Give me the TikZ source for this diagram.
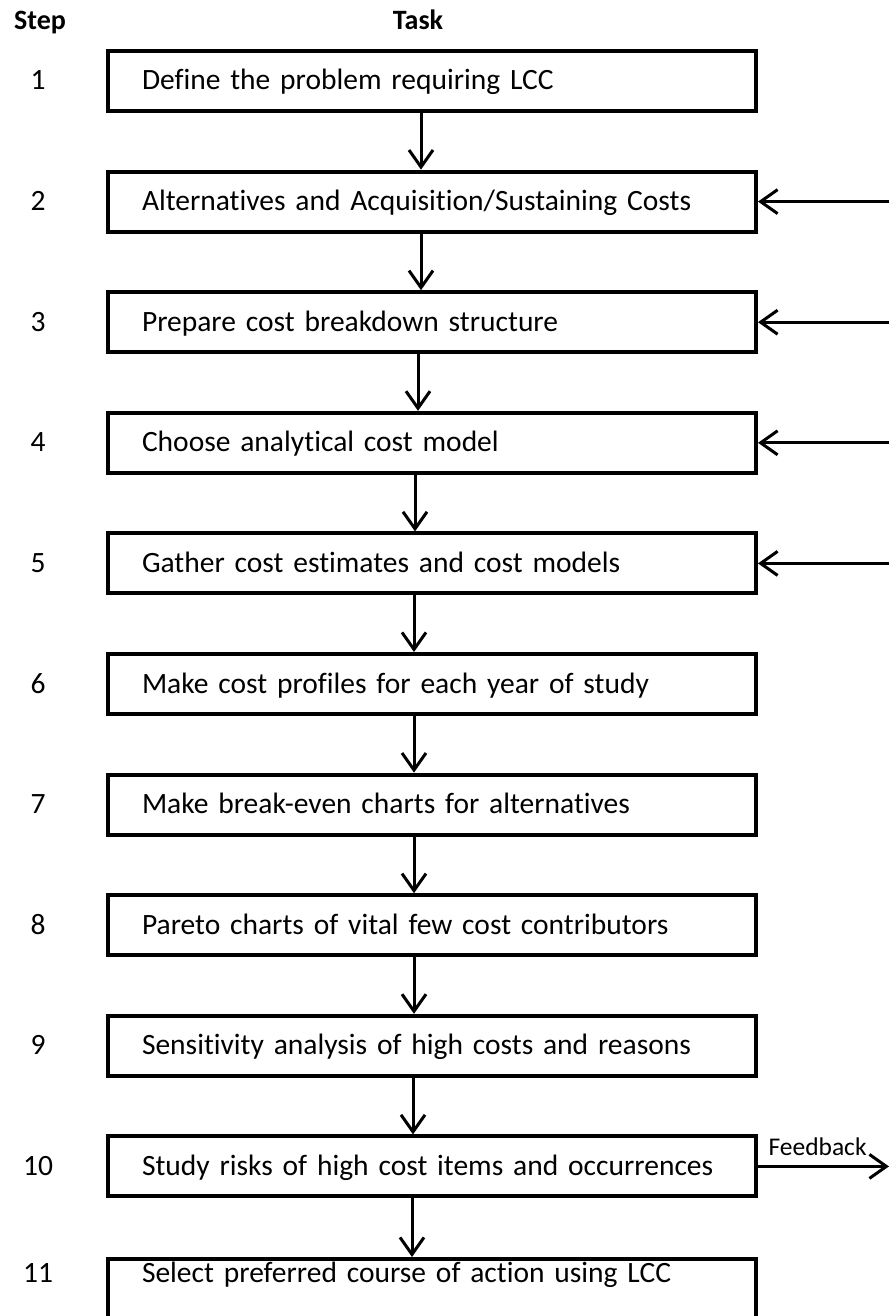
\documentclass[tikz,border=0pt]{standalone}
\usepackage{fontspec}
\setmainfont{Carlito}[Ligatures=NoCommon]
\usetikzlibrary{arrows.meta}
\begin{document}
\begin{tikzpicture}[x=1pt,y=-1pt,
  taskbox/.style={draw, line width=4pt, anchor=west, minimum width=648pt,
    minimum height=60pt, text width=580pt, align=left, inner xsep=34pt,
    inner ysep=0pt, text height=22pt, text depth=4pt,
    font=\fontsize{29.5}{34}\selectfont},
  stepnum/.style={anchor=base, inner sep=0pt,
    font=\fontsize{29.5}{34}\selectfont},
  header/.style={anchor=base, inner sep=0pt, font=\fontsize{28}{34}\selectfont\bfseries},
  arr/.style={-{Straight Barb[length=17pt,width=24pt]}, line width=3pt},
]
\useasboundingbox (0,0) rectangle (889,1316);

% column headings
\node[header] (hstep) at (40,30) {Step};
\node[header] (htask) at (418,30) {Task};

% task boxes 1 to 10
\foreach \t [count=\i] in {
  Define the problem requiring LCC,
  Alternatives and Acquisition/Sustaining Costs,
  Prepare cost breakdown structure,
  Choose analytical cost model,
  Gather cost estimates and cost models,
  Make cost profiles for each year of study,
  Make break-even charts for alternatives,
  Pareto charts of vital few cost contributors,
  Sensitivity analysis of high costs and reasons,
  Study risks of high cost items and occurrences}
  \node[taskbox] (b\i) at (106,{81+120.6*(\i-1)}) {\t};

% last box runs past the lower edge, text near its top
\node[taskbox, anchor=north west, minimum height=100pt, text height=23pt,
      text depth=77pt] (b11) at (106,1257) {Select preferred course of action using LCC};

% step numbers on the baseline of their task text
\foreach \i in {1,...,11}
  \node[stepnum] (n\i) at (38,0 |- b\i.base) {\i};

% downward flow between consecutive steps
\foreach \i/\j/\x in {1/2/421, 2/3/421, 3/4/418, 4/5/415, 5/6/414,
                      6/7/414, 7/8/414, 8/9/414, 9/10/413, 10/11/412}
  \draw[arr] (\x,0 |- b\i.south) -- (\x,0 |- b\j.north);

% feedback entering steps 2 to 5 from the right
\foreach \i in {2,3,4,5} {
  \coordinate (in\i) at (b\i.east -| 889,0);
  \draw[arr] (in\i) -- (b\i.east);
}

% feedback leaving step 10
\coordinate (out10) at (b10.east -| 889,0);
\draw[arr] (b10.east) -- (out10)
  node[pos=0, anchor=base west, xshift=9pt, yshift=11pt, inner sep=0pt,
       font=\fontsize{25.5}{30}\selectfont] (fbl) {Feedback};
\end{tikzpicture}
\end{document}
